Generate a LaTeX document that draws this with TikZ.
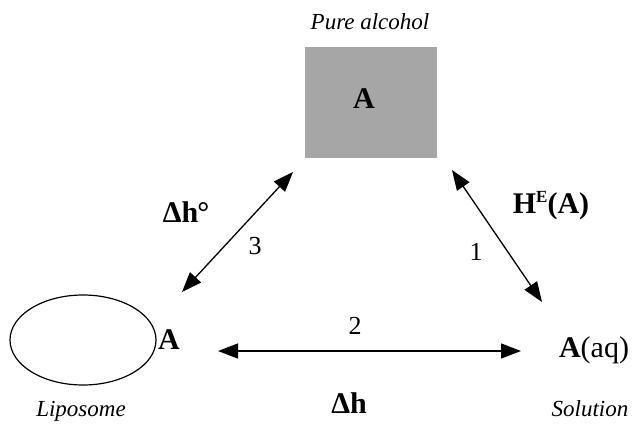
\documentclass[tikz,border=0pt]{standalone}
\usepackage{fontspec}
\setmainfont{Liberation Serif}
\usetikzlibrary{arrows.meta,shapes.geometric}
\begin{document}
\begin{tikzpicture}[x=1pt,y=-1pt,
  lbl/.style={inner sep=0pt,font=\fontsize{23}{27}\selectfont\itshape},
  bigtxt/.style={inner sep=0pt,font=\fontsize{30}{34}\selectfont\bfseries},
  num/.style={inner sep=0pt,font=\fontsize{26}{30}\selectfont},
  dbl/.style={{Triangle[length=20pt,width=15pt]}-{Triangle[length=20pt,width=15pt]},line width=1.3pt}]
\useasboundingbox (0,0) rectangle (637,425);
\node[lbl] (pure) at (370,22) {Pure alcohol};
\node[draw=none,fill=black!35,minimum width=132pt,minimum height=111pt,inner sep=0pt] (box) at (371,102.5) {};
\node[bigtxt] (boxA) at (364,99) {A};
\node[draw,line width=1.2pt,ellipse,minimum width=146pt,minimum height=90pt,inner sep=0pt] (lip) at (83,340) {};
\node[bigtxt] (lipA) at (169,340) {A};
\node[lbl] (liposome) at (81,411) {Liposome};
\node[inner sep=0pt,font=\fontsize{30}{34}\selectfont] (aq) at (594,350) {\textbf{A}(aq)};
\node[lbl] (solution) at (590,409) {Solution};
\coordinate (h1) at (218,351);
\coordinate (h2) at (521,351);
\coordinate (l1) at (182,292);
\coordinate (l2) at (293,172);
\coordinate (r1) at (452,170);
\coordinate (r2) at (542,302);
\draw[dbl] (h1) -- (h2);
\draw[dbl] (l1) -- (l2);
\draw[dbl] (r1) -- (r2);
\node[num] (n2) at (355,326) {2};
\node[num] (n3) at (255,246) {3};
\node[num] (n1) at (476,252) {1};
\node[bigtxt] (dh) at (349,403) {Δh};
\node[bigtxt] (dho) at (186,212) {Δh\kern-1pt°};
\node[bigtxt] (he) at (551,206) {H\raisebox{11pt}{\fontsize{17}{20}\selectfont E}(A)};
\end{tikzpicture}
\end{document}
